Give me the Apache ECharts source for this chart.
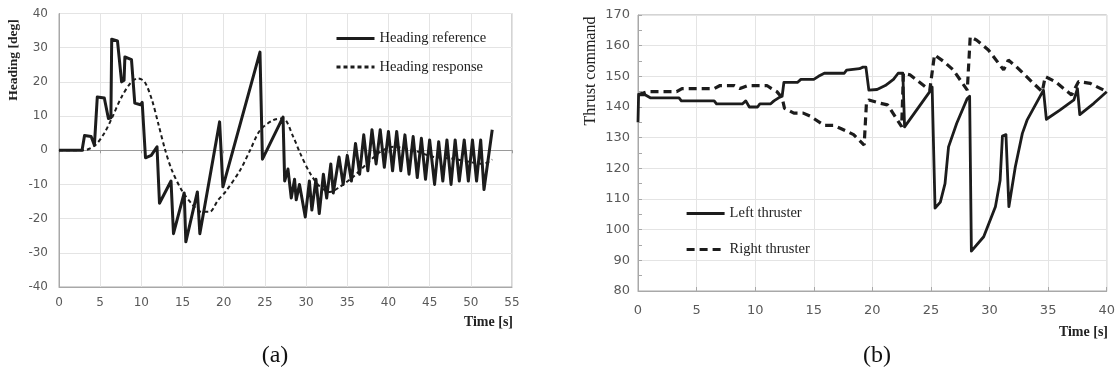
<!DOCTYPE html>
<html><head><meta charset="utf-8">
<script src="https://cdn.jsdelivr.net/npm/echarts@6/dist/echarts.min.js"></script>
<style>html,body{margin:0;padding:0;background:#fff}#c{width:1118px;height:377px}</style>
</head><body><div id="c"></div>
<script>
// ---------- Data (a) Heading ----------
const headingRefT = [0,2.8,3.0,3.1,3.9,4.3,4.5,4.65,5.5,5.6,6.0,6.3,6.4,7.1,7.6,7.9,8.0,8.8,9.2,9.9,10.1,10.5,11.2,11.9,12.2,13.6,13.9,15.2,15.4,16.8,17.1,19.5,19.9,24.4,24.7,27.2,27.4,27.8,28.2,28.6,28.8,29.2,29.9,30.4,30.7,31.2,31.6,32.1,32.5,33.0,33.3,34.0,34.5,35.0,35.5,36.0,36.5,37.0,37.5,38.0,38.5,39.0,39.5,40.0,40.5,41.0,41.5,42.0,42.5,43.0,43.5,44.0,44.5,45.0,45.6,46.1,46.6,47.1,47.6,48.1,48.6,49.2,49.7,50.2,50.7,51.2,51.6,52.6];
const headingRefV = [0,0,-0.5,4.3,4,1.5,2,15.6,15.3,15,9.3,9.5,32.5,32,20,20.5,27.3,26.5,13.8,13.3,14,-2.2,-1.5,1,-15.5,-9,-24.4,-12.5,-26.8,-12.2,-24.4,8.3,-10.7,28.7,-2.6,9.7,-9,-5.5,-14,-8.5,-14.5,-10,-19.5,-9,-17.5,-8.5,-18.5,-7,-14,-4,-12.5,-2,-10,-1.5,-9,2,-7,4.5,-6,6,-4,6,-5,5.5,-6,5.5,-6,4.5,-7,4,-8,3.5,-8.5,3,-10,2.5,-9,3,-10,3,-9,3,-9,3,-9,3,-11.5,6];
const headingRespT = [0,3,4.4,5.5,6.4,7.6,8.8,9.6,10.4,11.3,12.05,12.9,13.7,14.9,16.1,17.3,18.3,19.3,20.2,22.0,23.2,24.4,26.0,27.2,28.45,29.3,30.5,31.7,32.9,34.1,35.7,37.4,39.0,40.6,43.0,45.4,48.0,50.0,51.5,52.6];
const headingRespV = [0,0,1.5,5,9.3,15.6,20,21,20,14.6,7.8,0,-5.8,-11.7,-15.6,-18,-18,-14.6,-12.2,-5.8,0,5.8,8.8,9.3,3.9,-1,-6.8,-10.7,-12.2,-10.7,-7.8,-3.9,-0.5,1,0,-1.9,-2.5,-3.5,-4,-2.7];
const headingXTicks = [0,5,10,15,20,25,30,35,40,45,50,55];
const headingYTicks = [-40,-30,-20,-10,0,10,20,30,40];

// ---------- Data (b) Thrust ----------
const leftThrT = [0,0.05,0.6,1.05,3.5,3.7,6.5,6.7,8.9,9.2,9.5,10.2,10.4,11.3,11.6,12.0,12.3,12.45,13.6,13.9,15.0,15.4,15.9,17.6,17.8,18.9,19.2,19.45,19.7,20.4,21.1,21.8,22.2,22.6,22.75,24.9,25.1,25.35,25.8,26.2,26.5,27.2,28.1,28.3,28.45,29.5,30.5,30.9,31.1,31.4,31.65,32.2,32.8,33.2,34.3,34.6,34.85,36.0,37.2,37.5,37.7,38.9,40];
const leftThrV = [135,144,144,143,143,142,142,141,141,142,140,140,141,141,142,143,143.5,148,148,149,149,150,151,151,152,152.5,153,153,145.5,145.7,147,149,151,151,133.5,145,146.5,107,109,115,127,134.7,142.8,143.5,93,97.7,107.5,116,130.5,131,107.5,120.5,131.4,135.7,143.4,145.5,136,139,142.3,146,137.5,141.2,145];
const rightThrT = [0,0.8,3.3,3.75,6.5,7.0,8.2,8.7,9.4,11.0,11.4,11.85,12.3,12.5,13.3,14.1,14.7,15.9,16.7,17.3,18.4,19.3,19.5,19.7,20.7,21.3,22.5,22.65,23.2,24.9,25.3,26.1,26.9,28.1,28.35,28.9,29.9,31.2,31.6,32.3,33.75,34.5,34.75,35.6,37.0,37.6,38.6,40];
const rightThrV = [144,145,145,146,146,147,147,146,147,147,146,145,143,139.6,138,138,137,134,134,133,131,127.6,141.7,142.3,141.2,140.7,133.6,151,150.5,145.5,157,154.8,152.1,145.5,162.9,161.8,158.6,152.1,155.3,153.1,147.7,145,149.9,148.3,143.9,148.3,147.7,145];
const thrustXTicks = [0,5,10,15,20,25,30,35,40];
const thrustYTicks = [80,90,100,110,120,130,140,150,160,170];

const zip = (t, v) => t.map((x, i) => [x, v[i]]);
const ink = '#1c1c1c';
const gridCol = '#e4e4e4';
const axisCol = '#a8a8a8';
const lblCol = '#595959';
const sans = 'DejaVu Sans';
const serif = 'Liberation Serif';

const chart = echarts.init(document.getElementById('c'), null, {renderer: 'canvas'});
const first = a => a[0], last = a => a[a.length - 1];

chart.setOption({
  animation: false,
  backgroundColor: '#fff',
  grid: [
    {left: 59, top: 13.5, width: 453, height: 273.5, show: true, borderColor: axisCol, borderWidth: 1, containLabel: false},
    {left: 638, top: 15, width: 469, height: 276, show: true, borderColor: axisCol, borderWidth: 1, containLabel: false}
  ],
  xAxis: [
    {gridIndex: 0, type: 'value', min: first(headingXTicks), max: last(headingXTicks), interval: 5, position: 'bottom',
     axisLine: {onZero: false, lineStyle: {color: axisCol}}, axisTick: {show: false},
     axisLabel: {color: lblCol, fontFamily: sans, fontSize: 12, margin: 10},
     splitLine: {show: true, lineStyle: {color: gridCol}}},
    {gridIndex: 0, type: 'value', min: first(headingXTicks), max: last(headingXTicks), interval: 5, position: 'bottom',
     axisLine: {show: true, onZero: true, lineStyle: {color: '#9a9a9a', width: 1.2}},
     axisTick: {show: true, length: 3, lineStyle: {color: '#9a9a9a'}}, axisLabel: {show: false}, splitLine: {show: false}},
    {gridIndex: 1, type: 'value', min: first(thrustXTicks), max: last(thrustXTicks), interval: 5,
     axisLine: {onZero: false, lineStyle: {color: axisCol}}, axisTick: {show: true, inside: true, length: 4, lineStyle: {color: axisCol}},
     axisLabel: {color: lblCol, fontFamily: sans, fontSize: 13, margin: 13},
     splitLine: {show: true, lineStyle: {color: gridCol}}}
  ],
  yAxis: [
    {gridIndex: 0, type: 'value', min: first(headingYTicks), max: last(headingYTicks), interval: 10,
     axisLine: {show: true, onZero: false, lineStyle: {color: axisCol}}, axisTick: {show: false},
     axisLabel: {color: lblCol, fontFamily: sans, fontSize: 12, margin: 11},
     splitLine: {show: true, lineStyle: {color: gridCol}}},
    {gridIndex: 1, type: 'value', min: first(thrustYTicks), max: last(thrustYTicks), interval: 10,
     axisLine: {show: true, onZero: false, lineStyle: {color: axisCol}},
     axisTick: {show: true, inside: true, length: 4, lineStyle: {color: axisCol}},
     minorTick: {show: true, splitNumber: 2, length: 4, lineStyle: {color: axisCol}},
     axisLabel: {color: lblCol, fontFamily: sans, fontSize: 13, margin: 8},
     splitLine: {show: true, lineStyle: {color: gridCol}}}
  ],
  legend: [
    {orient: 'vertical', left: 335, top: 31, padding: 0, itemWidth: 38, itemHeight: 14, itemGap: 13.5,
     data: ['Heading reference', 'Heading response'],
     itemStyle: {opacity: 0}, lineStyle: {width: 3},
     textStyle: {fontFamily: serif, fontSize: 14.5, color: '#222'}},
    {orient: 'vertical', left: 685, top: 206, padding: 0, itemWidth: 38, itemHeight: 14, itemGap: 21,
     data: ['Left thruster', 'Right thruster'],
     itemStyle: {opacity: 0}, lineStyle: {width: 3.2},
     textStyle: {fontFamily: serif, fontSize: 14.5, color: '#222'}}
  ],
  series: [
    {name: 'Heading reference', type: 'line', xAxisIndex: 0, yAxisIndex: 0, showSymbol: false, symbol: 'none',
     data: zip(headingRefT, headingRefV), lineStyle: {color: ink, width: 3, join: 'round'}, itemStyle: {color: ink}},
    {name: 'Heading response', type: 'line', xAxisIndex: 0, yAxisIndex: 0, showSymbol: false, symbol: 'none', smooth: 0.3,
     data: zip(headingRespT, headingRespV), lineStyle: {color: ink, width: 2, type: [4, 3]}, itemStyle: {color: ink}},
    {name: 'Left thruster', type: 'line', xAxisIndex: 2, yAxisIndex: 1, showSymbol: false, symbol: 'none',
     data: zip(leftThrT, leftThrV), lineStyle: {color: ink, width: 2.8, join: 'round'}, itemStyle: {color: ink}},
    {name: 'Right thruster', type: 'line', xAxisIndex: 2, yAxisIndex: 1, showSymbol: false, symbol: 'none',
     data: zip(rightThrT, rightThrV), lineStyle: {color: ink, width: 3.2, type: [8, 5]}, itemStyle: {color: ink}}
  ],
  graphic: [
    {type: 'text', x: 14, y: 60, rotation: Math.PI / 2, style: {text: 'Heading [deg]', font: 'bold 13.5px "Liberation Serif"', fill: '#222', textAlign: 'center', textVerticalAlign: 'middle'}},
    {type: 'text', x: 591, y: 71, rotation: Math.PI / 2, style: {text: 'Thrust command', font: '16px "Liberation Serif"', fill: '#222', textAlign: 'center', textVerticalAlign: 'middle'}},
    {type: 'text', x: 513, y: 322, style: {text: 'Time [s]', font: 'bold 14px "Liberation Serif"', fill: '#222', textAlign: 'right', textVerticalAlign: 'middle'}},
    {type: 'text', x: 1108, y: 332, style: {text: 'Time [s]', font: 'bold 14px "Liberation Serif"', fill: '#222', textAlign: 'right', textVerticalAlign: 'middle'}},
    {type: 'text', x: 275, y: 356, style: {text: '(a)', font: '24px "Liberation Serif"', fill: '#111', textAlign: 'center', textVerticalAlign: 'middle'}},
    {type: 'text', x: 877, y: 356, style: {text: '(b)', font: '24px "Liberation Serif"', fill: '#111', textAlign: 'center', textVerticalAlign: 'middle'}}
  ]
});
</script></body></html>
